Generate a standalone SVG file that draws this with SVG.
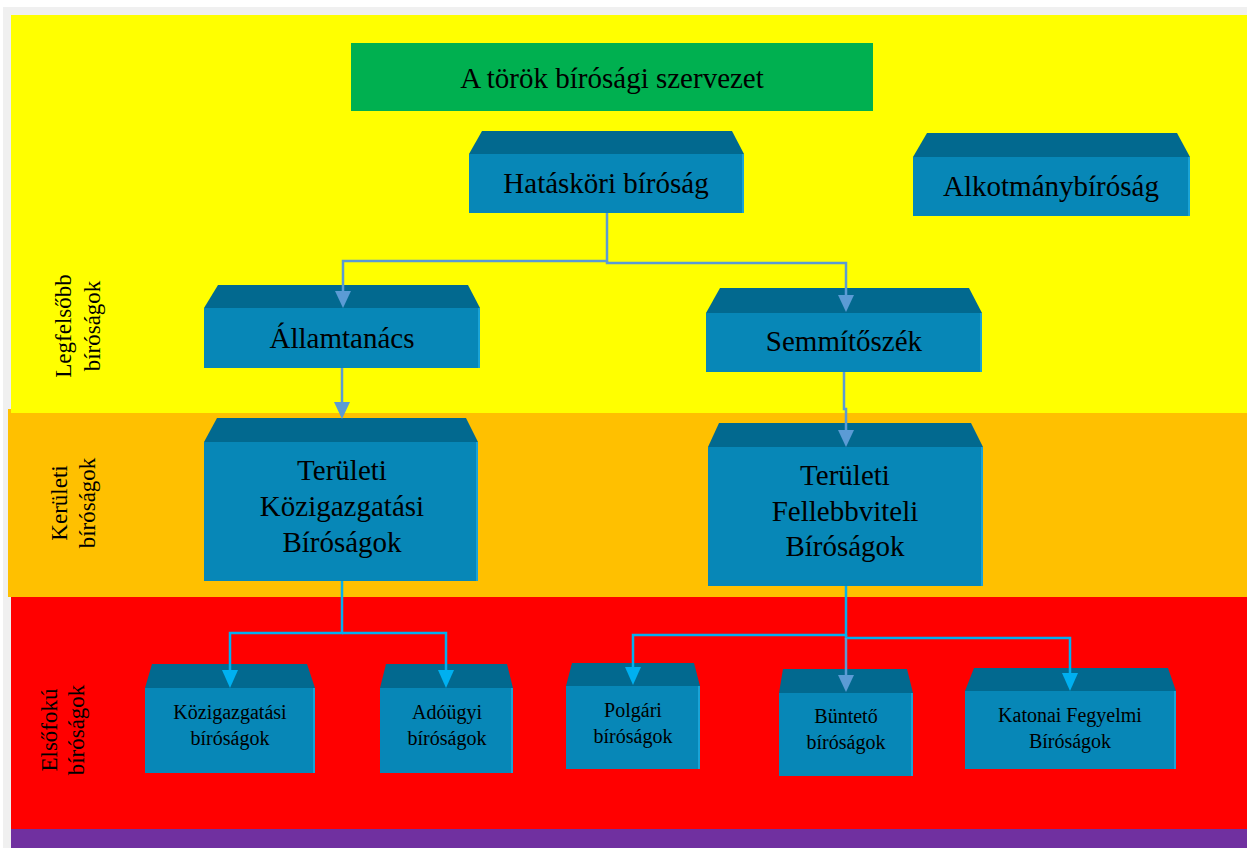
<svg xmlns="http://www.w3.org/2000/svg" width="1247" height="848" viewBox="0 0 1247 848">
<style>
.top{fill:#02698f}
.front{fill:#0787b7}
.edge{fill:#1aa3d6}
.t{font-family:"Liberation Serif","Times New Roman",serif;fill:#000;text-anchor:middle}
.big{font-size:29px}
.small{font-size:20px}
.side{font-size:23px}
.cb{fill:none;stroke:#5b9bd5;stroke-width:2.5}
.cc{fill:none;stroke:#00b0f0;stroke-width:2.5}
</style>
<defs>
<marker id="ab" viewBox="0 0 17 16" refX="1" refY="8" markerWidth="17" markerHeight="16" markerUnits="userSpaceOnUse" orient="auto"><path d="M0,0 L17,8 L0,16 z" fill="#5b9bd5"/></marker>
<marker id="ac" viewBox="0 0 18 16" refX="1" refY="8" markerWidth="18" markerHeight="16" markerUnits="userSpaceOnUse" orient="auto"><path d="M0,0 L18,8 L0,16 z" fill="#00b0f0"/></marker>
</defs>
<g id="background">
<rect x="0" y="0" width="1247" height="848" fill="#ffffff"/>
<rect x="3" y="7" width="1244" height="841" fill="#f0f0f0"/>
<rect x="8" y="409" width="1239" height="188" fill="#ffc000"/>
<rect x="11" y="15" width="1236" height="398" fill="#ffff00"/>
<rect x="11" y="597" width="1236" height="232" fill="#ff0000"/>
<rect x="11" y="829" width="1236" height="19" fill="#7030a0"/>
</g>
<g id="side-labels">
<text class="t side" transform="translate(71,326) rotate(-90)">Legfelsőbb</text>
<text class="t side" transform="translate(100,326) rotate(-90)">bíróságok</text>
<text class="t side" transform="translate(67,503) rotate(-90)">Kerületi</text>
<text class="t side" transform="translate(95,503) rotate(-90)">bíróságok</text>
<text class="t side" transform="translate(57,730) rotate(-90)">Elsőfokú</text>
<text class="t side" transform="translate(84,730) rotate(-90)">bíróságok</text>
</g>
<g id="title">
<rect x="351" y="43" width="522" height="68" fill="#00b050"/>
<text class="t big" x="612" y="88">A török bírósági szervezet</text>
</g>
<g id="hataskori">
<polygon class="top" points="482,131 732,131 744,154 469,154"/>
<rect class="front" x="469" y="154" width="275" height="59"/>
<rect class="edge" x="742" y="154" width="2" height="59"/>
<text class="t big" x="606" y="193">Hatásköri bíróság</text>
</g>
<g id="alkotmany">
<polygon class="top" points="927,133 1177,133 1190,157 913,157"/>
<rect class="front" x="913" y="157" width="277" height="59"/>
<rect class="edge" x="1188" y="157" width="2" height="59"/>
<text class="t big" x="1051" y="196">Alkotmánybíróság</text>
</g>
<g id="allamtanacs">
<polygon class="top" points="218,285 468,285 480,308 204,308"/>
<rect class="front" x="204" y="308" width="276" height="60"/>
<rect class="edge" x="478" y="308" width="2" height="60"/>
<text class="t big" x="342" y="348">Államtanács</text>
</g>
<g id="semmitoszek">
<polygon class="top" points="720,288 969,288 982,313 706,313"/>
<rect class="front" x="706" y="313" width="276" height="59"/>
<rect class="edge" x="980" y="313" width="2" height="59"/>
<text class="t big" x="844" y="351">Semmítőszék</text>
</g>
<g id="teruleti-kozig">
<polygon class="top" points="217,418 466,418 478,442 204,442"/>
<rect class="front" x="204" y="442" width="274" height="139"/>
<rect class="edge" x="476" y="442" width="2" height="139"/>
<text class="t big" x="342" y="480">Területi</text>
<text class="t big" x="342" y="516">Közigazgatási</text>
<text class="t big" x="342" y="552">Bíróságok</text>
</g>
<g id="teruleti-fell">
<polygon class="top" points="719,423 971,423 983,447 708,447"/>
<rect class="front" x="708" y="447" width="275" height="139"/>
<rect class="edge" x="981" y="447" width="2" height="139"/>
<text class="t big" x="845" y="485">Területi</text>
<text class="t big" x="845" y="521">Fellebbviteli</text>
<text class="t big" x="845" y="556">Bíróságok</text>
</g>
<g id="kozig">
<polygon class="top" points="152,664 307,664 315,688 145,688"/>
<rect class="front" x="145" y="688" width="170" height="85"/>
<rect class="edge" x="313" y="688" width="2" height="85"/>
<text class="t small" x="230" y="719">Közigazgatási</text>
<text class="t small" x="230" y="745">bíróságok</text>
</g>
<g id="adougyi">
<polygon class="top" points="386,664 507,664 513,688 380,688"/>
<rect class="front" x="380" y="688" width="133" height="85"/>
<rect class="edge" x="511" y="688" width="2" height="85"/>
<text class="t small" x="447" y="719">Adóügyi</text>
<text class="t small" x="447" y="745">bíróságok</text>
</g>
<g id="polgari">
<polygon class="top" points="572,663 694,663 700,686 566,686"/>
<rect class="front" x="566" y="686" width="134" height="83"/>
<rect class="edge" x="698" y="686" width="2" height="83"/>
<text class="t small" x="633" y="717">Polgári</text>
<text class="t small" x="633" y="743">bíróságok</text>
</g>
<g id="bunteto">
<polygon class="top" points="783,669 907,669 913,693 779,693"/>
<rect class="front" x="779" y="693" width="134" height="83"/>
<rect class="edge" x="911" y="693" width="2" height="83"/>
<text class="t small" x="846" y="723">Büntető</text>
<text class="t small" x="846" y="749">bíróságok</text>
</g>
<g id="katonai">
<polygon class="top" points="974,668 1168,668 1176,691 965,691"/>
<rect class="front" x="965" y="691" width="211" height="78"/>
<rect class="edge" x="1174" y="691" width="2" height="78"/>
<text class="t small" x="1070" y="722">Katonai Fegyelmi</text>
<text class="t small" x="1070" y="748">Bíróságok</text>
</g>
<g id="connectors">
<path class="cb" d="M607,213 V261 H343 V292" marker-end="url(#ab)"/>
<path class="cb" d="M607,261 V263 H846 V296" marker-end="url(#ab)"/>
<path class="cb" d="M342,368 V403" marker-end="url(#ab)"/>
<path class="cb" d="M844,372 V409 H846 V431" marker-end="url(#ab)"/>
<path class="cc" d="M342,581 V633 H230 V671" marker-end="url(#ac)"/>
<path class="cc" d="M342,633 H446 V671" marker-end="url(#ac)"/>
<path class="cc" d="M846,586 V635 H633 V668" marker-end="url(#ac)"/>
<path class="cc" d="M846,635 V638 H1070 V674" marker-end="url(#ac)"/>
<path class="cb" d="M846,638 V676" marker-end="url(#ab)"/>
</g>
</svg>
